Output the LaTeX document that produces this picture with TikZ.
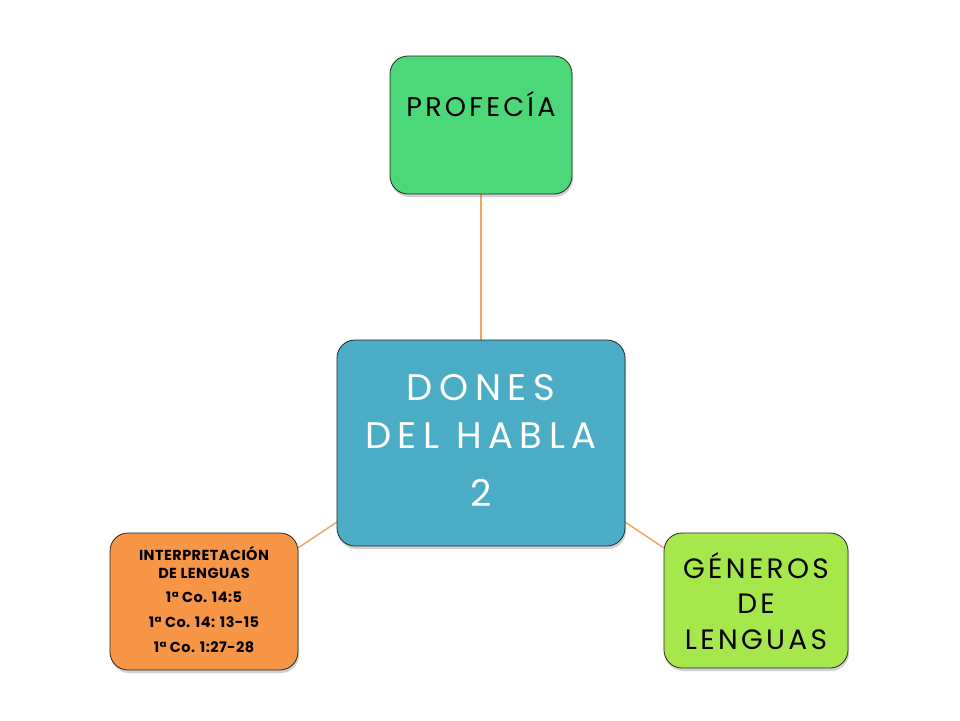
\documentclass[tikz,border=0pt]{standalone}
\usepackage{fontspec}
\setmainfont{Poppins}
\newfontfamily\hand[LetterSpace=12]{Poppins}
\newfontfamily\handwide[LetterSpace=18]{Poppins}
\newfontfamily\handtight[LetterSpace=3]{Poppins}
\usetikzlibrary{shadows}
\definecolor{cgreen}{HTML}{4CD878}
\definecolor{cblue}{HTML}{4BACC6}
\definecolor{corange}{HTML}{F79646}
\definecolor{clime}{HTML}{A6E84C}
\definecolor{cline}{HTML}{F4A460}
\begin{document}
\begin{tikzpicture}[x=1pt,y=-1pt,
  gbox/.style={draw=black!85,line width=0.8pt,rounded corners=18pt,
    drop shadow={shadow xshift=1pt,shadow yshift=-3pt,opacity=0.35}},
  conn/.style={draw=cline,line width=1.5pt}]
\useasboundingbox[fill=white] (0,0) rectangle (960,720);
% named anchors for the boxes
\node (prof) at (481,125) [minimum width=182pt,minimum height=138pt,inner sep=0pt] {};
\node (cent) at (481,443) [minimum width=288pt,minimum height=206pt,inner sep=0pt] {};
\node (interp) at (204,601) [minimum width=188pt,minimum height=137pt,inner sep=0pt] {};
\node (gen) at (756,600) [minimum width=184pt,minimum height=135pt,inner sep=0pt] {};
% connectors
\coordinate (c1) at (337,522);
\coordinate (c2) at (625,522);
\coordinate (i1) at (298,548);
\coordinate (g1) at (664,548);
\draw[conn] (prof.south) -- (cent.north);
\draw[conn] (c1) -- (i1);
\draw[conn] (c2) -- (g1);
% boxes
\path[gbox,fill=cgreen] (390,56) rectangle (572,194);
\path[gbox,fill=cblue] (337,340) rectangle (625,546);
\path[gbox,fill=corange] (110,533) rectangle (298,670);
\path[gbox,fill=clime] (664,533) rectangle (848,668);
% texts
\node[font={\hand\fontsize{27}{30}\selectfont}] (tprof) at (481,104) {PROFECÍA};
\node[text=white,align=center,font={\handwide\fontsize{37}{48}\selectfont}] (tcent) at (481,440) {DONES\\DEL HABLA\\[10pt]2};
\node[align=center,font={\hand\fontsize{28}{35.5}\selectfont}] (tgen) at (756,601) {GÉNEROS\\DE\\LENGUAS};
\node[align=center,font={\handtight\bfseries\fontsize{14.5}{18}\selectfont}] (tint) at (204,600) {INTERPRETACIÓN\\DE LENGUAS\\[6pt]
 {\fontsize{14.5}{18}\selectfont 1ª Co. 14:5}\\[7pt]
 {\fontsize{14.5}{18}\selectfont 1ª Co. 14: 13-15}\\[7pt]
 {\fontsize{14.5}{18}\selectfont 1ª Co. 1:27-28}};
\end{tikzpicture}
\end{document}
